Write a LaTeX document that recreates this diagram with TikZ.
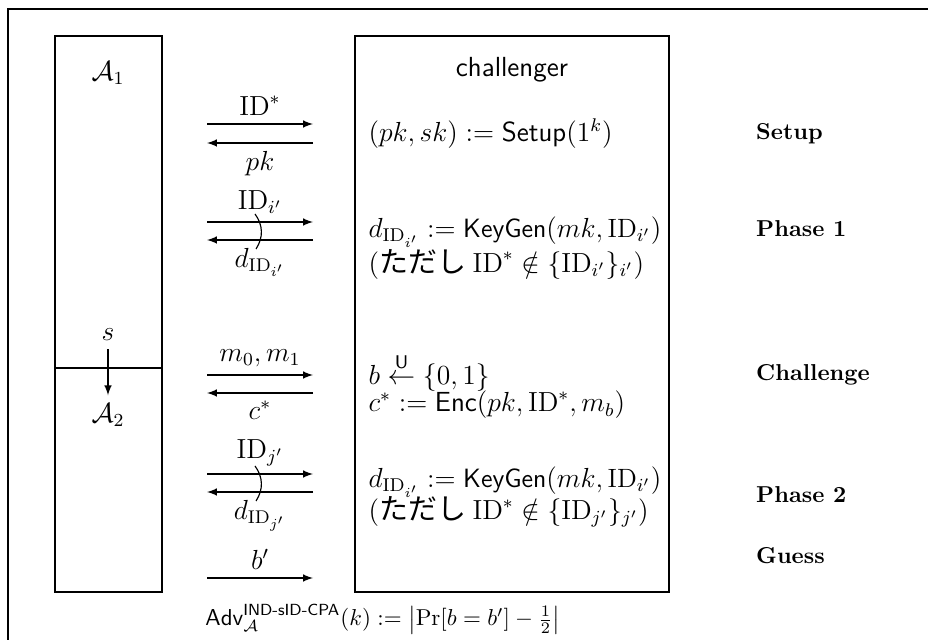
\documentclass[tikz,border=0pt]{standalone}
\usepackage{amsmath,amssymb}
\usepackage{fontspec}
\newfontfamily\jpfont[Scale=1.05]{Noto Sans CJK JP}
\usetikzlibrary{positioning}

\begin{document}
\begin{tikzpicture}[x=0.4348pt, y=-0.4348pt, line width=0.5pt, font=\large,
    msg/.style={-latex},
    step label/.style={font=\normalsize\bfseries, anchor=west},
    comp/.style={anchor=west, inner sep=0pt},
    key comp/.style={comp, font=\fontsize{11.5}{14}\selectfont}]
            \useasboundingbox (0,0) rectangle (928,640);
            % --- Frame ---
            \draw (928,9) -- (8,9) -- (8,640);

            % --- Parties ---
            \node[draw, minimum width=46.5pt, minimum height=241.7pt] (adv) at (108.5,314) {};
            \node[draw, minimum width=136.5pt, minimum height=241.7pt] (chal) at (512,314) {};
            \draw (adv.west |- 0,368) -- (adv.east |- 0,368);

            \node (A1) at (108,73) {$\mathcal{A}_1$};
            \node (s) at (108,335) {$s$};
            \node (A2) at (108,415) {$\mathcal{A}_2$};
            \node (ch) at (512,70) {\sffamily challenger};
            \draw[msg] (s) -- (A2);

            % --- Message End Points ---
            \coordinate (a1) at (207,124); \coordinate (b1) at (313,124);
            \coordinate (a2) at (207,143); \coordinate (b2) at (313,143);
            \coordinate (a3) at (207,222); \coordinate (b3) at (313,222);
            \coordinate (a4) at (207,240); \coordinate (b4) at (313,240);
            \coordinate (a5) at (207,375); \coordinate (b5) at (313,375);
            \coordinate (a6) at (207,393); \coordinate (b6) at (313,393);
            \coordinate (a7) at (207,474); \coordinate (b7) at (313,474);
            \coordinate (a8) at (207,492); \coordinate (b8) at (313,492);
            \coordinate (a9) at (207,578); \coordinate (b9) at (313,578);
            \coordinate (u1) at (255,214); \coordinate (v1) at (256,249);
            \coordinate (u2) at (255,466); \coordinate (v2) at (256,501);

            % --- Messages ---
            \draw[msg] (a1) -- node[above] (mID) {$\mathrm{ID}^*$} (b1);
            \draw[msg] (b2) -- node[below] (mpk) {$pk$} (a2);
            \draw[msg] (a3) -- node[above] (mIDi) {$\mathrm{ID}_{i'}$} (b3);
            \draw[msg] (b4) -- node[below] (mdi) {$d_{\mathrm{ID}_{i'}}$} (a4);
            \draw[msg] (a5) -- node[above] (mm) {$m_0, m_1$} (b5);
            \draw[msg] (b6) -- node[below] (mc) {$c^*$} (a6);
            \draw[msg] (a7) -- node[above] (mIDj) {$\mathrm{ID}_{j'}$} (b7);
            \draw[msg] (b8) -- node[below] (mdj) {$d_{\mathrm{ID}_{j'}}$} (a8);
            \draw[msg] (a9) -- node[above] (mb) {$b'$} (b9);

            % --- Repeated Queries ---
            \draw (u1) to[bend left=35] (v1);
            \draw (u2) to[bend left=35] (v2);

            % --- Challenger Steps ---
            \node[comp] (c1) at (368,134) {$(pk, sk) := \mathsf{Setup}(1^k)$};
            \node[key comp] (c2) at (368,232) {$d_{\mathrm{ID}_{i'}} := \mathsf{KeyGen}(mk, \mathrm{ID}_{i'})$};
            \node[comp] (c3) at (368,264) {$($\jpfont ただし\ $\mathrm{ID}^* \notin \{\mathrm{ID}_{i'}\}_{i'})$};
            \node[comp] (c4) at (368,372) {$b \overset{\mathsf{U}}{\leftarrow} \{0,1\}$};
            \node[comp] (c5) at (368,405) {$c^* := \mathsf{Enc}(pk, \mathrm{ID}^*, m_b)$};
            \node[key comp] (c6) at (368,482) {$d_{\mathrm{ID}_{i'}} := \mathsf{KeyGen}(mk, \mathrm{ID}_{i'})$};
            \node[comp] (c7) at (368,512) {$($\jpfont ただし\ $\mathrm{ID}^* \notin \{\mathrm{ID}_{j'}\}_{j'})$};

            % --- Phase Labels ---
            \node[step label] (lsetup) at (748,134) {Setup};
            \node[step label] (lph1) at (748,229) {Phase 1};
            \node[step label] (lchal) at (748,375) {Challenge};
            \node[step label] (lph2) at (748,495) {Phase 2};
            \node[step label] (lguess) at (748,556) {Guess};

            % --- Advantage ---
            \node[font=\normalsize] (adv def) at (383,619) {$\mathsf{Adv}^{\text{\sffamily IND-sID-CPA}}_{\mathcal{A}}(k) := \bigl|\Pr[b = b'] - \tfrac{1}{2}\bigr|$};
        \end{tikzpicture}
\end{document}
